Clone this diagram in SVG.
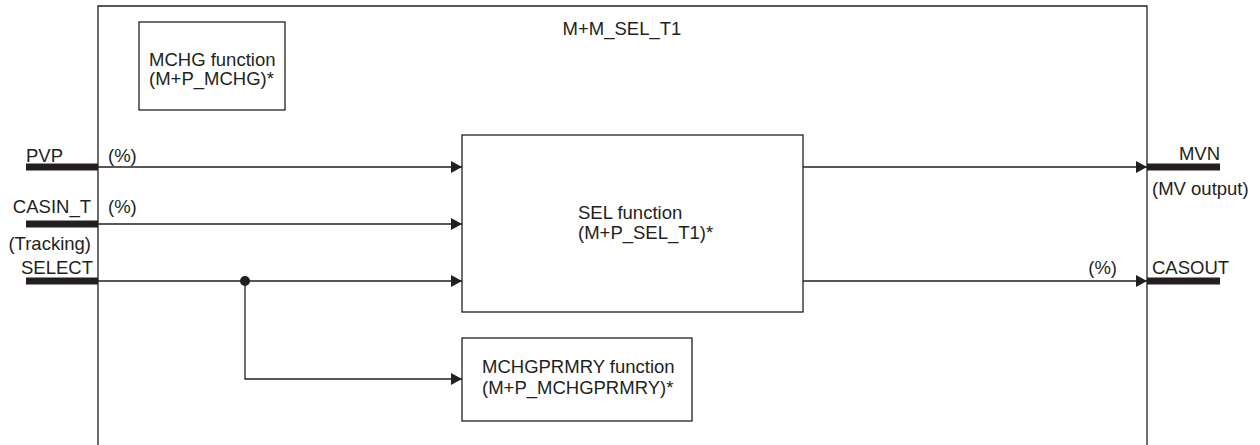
<svg xmlns="http://www.w3.org/2000/svg" width="1260" height="445" viewBox="0 0 1260 445">
<style>
text{font-family:"Liberation Sans",Arial,sans-serif;font-size:18.5px;fill:#231f20}
.box{fill:#fff;stroke:#231f20;stroke-width:1.3}
.ln{fill:none;stroke:#231f20;stroke-width:1.3}
.bar{fill:#231f20}
.end{text-anchor:end}
.mid{text-anchor:middle}
</style>
<defs>
<marker id="arr" markerWidth="11" markerHeight="12" refX="11" refY="6" orient="auto" markerUnits="userSpaceOnUse">
<path d="M0,0 L11,6 L0,12 Z" fill="#231f20"/>
</marker>
</defs>
<g id="frame">
<path class="ln" d="M98,445 V6 H1147 V445"/>
<text class="mid" x="622" y="35">M+M_SEL_T1</text>
</g>
<g id="mchg">
<rect class="box" x="139" y="22" width="146" height="88"/>
<text x="149" y="66">MCHG function</text>
<text x="149" y="85">(M+P_MCHG)*</text>
</g>
<g id="sel">
<rect class="box" x="462" y="135" width="341" height="177"/>
<text x="578" y="219">SEL function</text>
<text x="578" y="239">(M+P_SEL_T1)*</text>
</g>
<g id="mchgprmry">
<rect class="box" x="462" y="338" width="230" height="83"/>
<text x="482" y="373">MCHGPRMRY function</text>
<text x="482" y="394">(M+P_MCHGPRMRY)*</text>
</g>
<g id="pvp">
<rect class="bar" x="26" y="163.5" width="72" height="7"/>
<text x="26" y="162">PVP</text>
</g>
<g id="casin_t">
<rect class="bar" x="26" y="220.5" width="72" height="7"/>
<text class="end" x="91" y="213">CASIN_T</text>
<text class="end" x="91" y="250">(Tracking)</text>
</g>
<g id="select">
<rect class="bar" x="26" y="277.5" width="72" height="7"/>
<text class="end" x="93" y="274">SELECT</text>
</g>
<g id="mvn">
<rect class="bar" x="1147" y="163.5" width="73" height="7"/>
<text class="end" x="1220" y="160">MVN</text>
<text x="1152" y="195">(MV output)</text>
</g>
<g id="casout">
<rect class="bar" x="1147" y="277.5" width="73" height="7"/>
<text x="1152" y="274">CASOUT</text>
</g>
<g id="connectors">
<line class="ln" x1="98" y1="167" x2="462" y2="167" marker-end="url(#arr)"/>
<line class="ln" x1="98" y1="224" x2="462" y2="224" marker-end="url(#arr)"/>
<line class="ln" x1="98" y1="281" x2="462" y2="281" marker-end="url(#arr)"/>
<path class="ln" d="M245,281 V379 H462" marker-end="url(#arr)"/>
<circle cx="245" cy="281" r="5" fill="#231f20"/>
<line class="ln" x1="803" y1="167" x2="1147" y2="167" marker-end="url(#arr)"/>
<line class="ln" x1="803" y1="281" x2="1147" y2="281" marker-end="url(#arr)"/>
<text x="108" y="162">(%)</text>
<text x="108" y="213">(%)</text>
<text class="end" x="1117" y="274">(%)</text>
</g>
</svg>
